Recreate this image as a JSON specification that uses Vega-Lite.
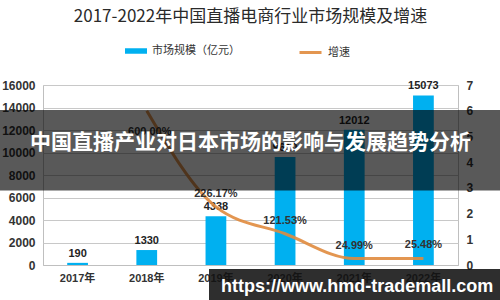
{
  "$schema": "https://vega.github.io/schema/vega-lite/v6.json",
  "width": 415,
  "height": 180,
  "autosize": {"type": "none"},
  "padding": {"left": 43, "top": 85, "right": 42, "bottom": 35},
  "background": "white",
  "title": {
    "text": "2017-2022年中国直播电商行业市场规模及增速",
    "font": "Noto Sans CJK SC",
    "fontSize": 17,
    "fontWeight": "normal",
    "color": "#2a2a2a",
    "anchor": "middle",
    "offset": 14
  },
  "config": {
    "view": {"stroke": "#bfbfbf"},
    "font": "Liberation Sans, Noto Sans CJK SC"
  },
  "data": {
    "values": [
      {"year": "2017年", "size": 190, "growth": null},
      {"year": "2018年", "size": 1330, "growth": 6.0},
      {"year": "2019年", "size": 4338, "growth": 2.2617},
      {"year": "2020年", "size": 9610, "growth": 1.2153},
      {"year": "2021年", "size": 12012, "growth": 0.2499},
      {"year": "2022年", "size": 15073, "growth": 0.2548}
    ]
  },
  "layer": [
    {
      "encoding": {
        "x": {
          "field": "year",
          "type": "nominal",
          "sort": null,
          "scale": {"paddingInner": 0.7, "paddingOuter": 0.35},
          "axis": {
            "title": null,
            "labelAngle": 0,
            "ticks": false,
            "domainColor": "#bfbfbf",
            "labelPadding": 7,
            "labelFont": "Liberation Sans, Noto Sans CJK SC",
            "labelFontSize": 11,
            "labelFontWeight": "bold",
            "labelColor": "#333333"
          }
        },
        "y": {
          "field": "size",
          "type": "quantitative",
          "scale": {"domain": [0, 16000], "nice": false},
          "axis": {
            "title": null,
            "format": "d",
            "values": [0, 2000, 4000, 6000, 8000, 10000, 12000, 14000, 16000],
            "grid": true,
            "gridColor": "#c8c8c8",
            "domain": false,
            "ticks": false,
            "labelPadding": 8,
            "labelFont": "Liberation Sans",
            "labelFontSize": 12,
            "labelFontWeight": "bold",
            "labelColor": "#333333"
          }
        }
      },
      "layer": [
        {
          "mark": {"type": "bar"},
          "encoding": {
            "fill": {
              "datum": "市场规模（亿元）",
              "scale": {"range": ["#00B0F0"]},
              "legend": {
                "orient": "none",
                "legendX": 82,
                "legendY": -45,
                "title": null,
                "padding": 0,
                "symbolType": "M-1,-0.25H1V0.25H-1Z",
                "symbolSize": 484,
                "symbolStrokeWidth": 0,
                "labelOffset": 5,
                "labelFont": "Noto Sans CJK SC",
                "labelFontSize": 11,
                "labelColor": "#333333"
              }
            }
          }
        },
        {
          "mark": {"type": "text", "dy": -9, "baseline": "middle", "font": "Liberation Sans", "fontSize": 11, "fontWeight": "bold", "color": "#222222"},
          "encoding": {"text": {"field": "size", "type": "quantitative", "format": "d"}}
        }
      ]
    },
    {
      "transform": [{"filter": "datum.growth != null"}],
      "encoding": {
        "x": {
          "field": "year",
          "type": "nominal",
          "sort": null,
          "scale": {"domain": ["2017年", "2018年", "2019年", "2020年", "2021年", "2022年"], "paddingInner": 0.7, "paddingOuter": 0.35},
          "axis": null
        },
        "y": {
          "field": "growth",
          "type": "quantitative",
          "scale": {"domain": [0, 7], "nice": false},
          "axis": {
            "orient": "right",
            "title": null,
            "values": [0, 1, 2, 3, 4, 5, 6, 7],
            "grid": false,
            "domain": false,
            "ticks": false,
            "labelPadding": 8,
            "labelFont": "Liberation Sans",
            "labelFontSize": 12,
            "labelFontWeight": "bold",
            "labelColor": "#333333"
          }
        }
      },
      "layer": [
        {
          "mark": {"type": "line", "interpolate": "monotone", "strokeWidth": 3, "opacity": 0.9},
          "encoding": {
            "stroke": {
              "datum": "增速",
              "scale": {"range": ["#E08B3E"]},
              "legend": {
                "orient": "none",
                "legendX": 255,
                "legendY": -45,
                "title": null,
                "padding": 0,
                "symbolType": "stroke",
                "symbolSize": 484,
                "symbolStrokeWidth": 3,
                "labelOffset": 5,
                "labelFont": "Noto Sans CJK SC",
                "labelFontSize": 11,
                "labelColor": "#333333"
              }
            }
          }
        },
        {
          "transform": [{"filter": "datum.year != '2018年'"}],
          "mark": {"type": "text", "dy": -13, "baseline": "middle", "font": "Liberation Sans", "fontSize": 11, "fontWeight": "bold", "color": "#333333"},
          "encoding": {"text": {"field": "growth", "type": "quantitative", "format": ".2%"}}
        },
        {
          "transform": [{"filter": "datum.year == '2018年'"}],
          "mark": {"type": "text", "dy": 21, "dx": 3, "baseline": "middle", "font": "Liberation Sans", "fontSize": 11, "fontWeight": "bold", "color": "#333333"},
          "encoding": {"text": {"field": "growth", "type": "quantitative", "format": ".2%"}}
        }
      ]
    },
    {
      "data": {"values": [{"banner": "中国直播产业对日本市场的影响与发展趋势分析", "site": "https://www.hmd-trademall.com"}]},
      "layer": [
        {
          "mark": {"type": "rect", "fill": "#000000", "opacity": 0.65},
          "encoding": {
            "x": {"datum": -0.11, "type": "quantitative", "scale": {"domain": [0, 1], "nice": false, "zero": false}, "axis": null},
            "x2": {"datum": 1.11},
            "y": {"datum": 13778, "type": "quantitative", "scale": {"domain": [0, 16000], "nice": false}, "axis": null},
            "y2": {"datum": 6622}
          }
        },
        {
          "mark": {"type": "text", "font": "Noto Sans CJK SC", "fontSize": 21, "fontWeight": "bold", "color": "#ffffff", "baseline": "middle", "align": "center"},
          "encoding": {
            "x": {"datum": 0.5, "type": "quantitative"},
            "y": {"datum": 10844, "type": "quantitative"},
            "text": {"field": "banner"}
          }
        },
        {
          "mark": {"type": "rect", "fill": "#111111", "opacity": 0.88},
          "encoding": {
            "x": {"datum": 0.4, "type": "quantitative"},
            "x2": {"datum": 1.11},
            "y": {"datum": -356, "type": "quantitative"},
            "y2": {"datum": -3300}
          }
        },
        {
          "mark": {"type": "text", "font": "Liberation Sans", "fontSize": 18, "fontWeight": "bold", "color": "#ffffff", "baseline": "middle", "align": "center"},
          "encoding": {
            "x": {"datum": 0.757, "type": "quantitative"},
            "y": {"datum": -1956, "type": "quantitative"},
            "text": {"field": "site"}
          }
        }
      ]
    }
  ],
  "resolve": {"scale": {"x": "independent", "y": "independent", "fill": "independent", "stroke": "independent"}}
}
